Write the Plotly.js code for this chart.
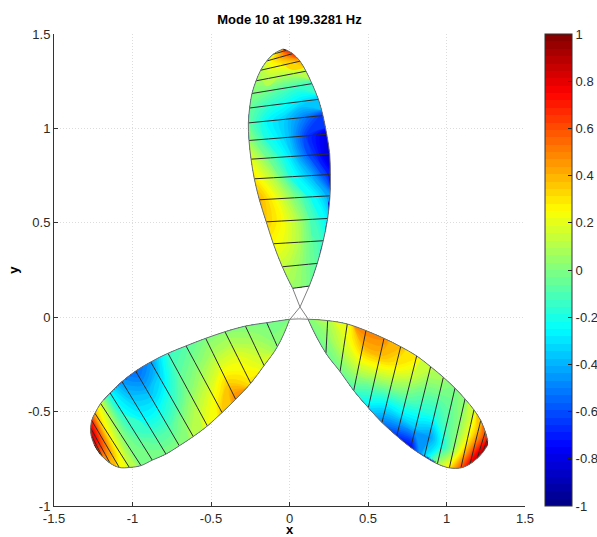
<!DOCTYPE html>
<html><head><meta charset="utf-8">
<script src="https://cdn.plot.ly/plotly-3.0.1.min.js"></script>
<style>html,body{margin:0;padding:0;background:#fff}#p{width:597px;height:537px}</style>
</head><body><div id="p"></div>
<script>
// Petal stations: [x at side A, y at side A, x at side B, y at side B]
var topStations = [
[.020,.153,.126,.165],[-.046,.267,.177,.285],[-.103,.389,.215,.405],[-.148,.505,.243,.523],
[-.192,.622,.258,.643],[-.224,.733,.260,.756],[-.245,.837,.256,.865],[-.258,.936,.237,.969],
[-.262,1.029,.213,1.068],[-.254,1.108,.184,1.154],[-.239,1.185,.143,1.237],[-.213,1.252,.105,1.303],
[-.184,1.308,.067,1.356],[-.145,1.357,.020,1.396],[-.103,1.393,-.018,1.414],[-.044,1.419,-.035,1.419]];
var leftStations = [
[-.001,-.011,-.001,-.015],[-.145,-.029,-.077,-.156],[-.281,-.047,-.162,-.256],[-.411,-.077,-.247,-.350],
[-.534,-.112,-.343,-.435],[-.659,-.152,-.430,-.505],[-.774,-.191,-.523,-.576],[-.884,-.237,-.613,-.632],
[-.980,-.285,-.702,-.681],[-1.067,-.341,-.787,-.725],[-1.143,-.401,-.874,-.757],[-1.203,-.457,-.946,-.786],
[-1.239,-.509,-1.020,-.796],[-1.260,-.547,-1.084,-.796],[-1.266,-.588,-1.143,-.773],[-1.264,-.623,-1.192,-.738],
[-1.243,-.676,-1.228,-.699]];
var rightStations = [
[.120,-.015,.120,-.011],[.232,-.191,.243,-.018],[.322,-.288,.368,-.036],[.409,-.389,.487,-.071],
[.502,-.479,.602,-.112],[.589,-.558,.708,-.156],[.683,-.629,.810,-.205],[.772,-.690,.899,-.262],
[.859,-.738,.980,-.318],[.942,-.777,1.054,-.376],[1.018,-.798,1.118,-.433],[1.092,-.798,1.175,-.491],
[1.150,-.777,1.218,-.547],[1.196,-.747,1.247,-.606],[1.230,-.717,1.260,-.646],[1.256,-.685,1.260,-.676]];
// Mode shape read across each station, from side A to side B
var topMode = [
[.05,.04,.03,.01,-.03],[.13,.1,.05,-.02,-.08],[.25,.2,.1,-.05,-.15],[.35,.25,.1,-.1,-.28],
[.4,.22,0,-.22,-.42],[.3,.1,-.2,-.4,-.7],[.2,-.05,-.3,-.6,-.85],[.05,-.2,-.35,-.65,-.8],
[-.05,-.25,-.35,-.5,-.65],[-.05,-.15,-.22,-.3,-.35],[0,-.02,-.08,-.12,-.15],[.05,.1,.1,.12,.1],
[.1,.2,.25,.32,.4],[.18,.3,.4,.5,.65],[.2,.3,.4,.55,.7],[.25,.35,.45,.6,.72]];
var leftMode = [
[0,0,0,0,0],[-.02,0,0,.02,.02],[0,.05,.1,.15,.18],[.02,.1,.2,.25,.3],
[0,.08,.2,.35,.48],[-.08,0,.1,.22,.35],[-.15,-.08,0,.12,.22],[-.45,-.3,-.15,0,.12],
[-.55,-.4,-.25,-.1,.02],[-.45,-.35,-.25,-.1,0],[-.25,-.22,-.15,-.05,0],[.18,.1,.03,0,0],
[.4,.3,.25,.2,.12],[.7,.6,.5,.4,.25],[.8,.75,.65,.5,.4],[.85,.8,.7,.6,.5],[.85,.8,.72,.65,.55]];
var rightMode = [
[0,0,0,0,0],[-.02,0,.03,.06,.1],[-.03,.05,.15,.2,.2],[-.12,.05,.22,.4,.5],
[-.3,-.1,.15,.38,.48],[-.5,-.25,.05,.28,.38],[-.65,-.3,-.05,.15,.3],[-.75,-.35,-.15,0,.15],
[-.3,-.45,-.2,-.05,.08],[.08,-.22,-.1,-.05,0],[.3,.05,.02,.03,.02],[.6,.4,.25,.2,.15],
[.78,.65,.5,.4,.35],[.85,.8,.7,.6,.55],[.9,.85,.8,.75,.7],[.92,.88,.85,.8,.78]];
// Unfilled crossing of the boundary curve near the origin
var crossX = [.020,.067,.120,null,.126,.067,-.001,null,-.001,.06,.120];
var crossY = [.153,.054,-.011,null,.165,.054,-.015,null,-.011,-.009,-.011];
var axisVals = [-1.5,-1,-0.5,0,0.5,1,1.5];
var axisText = ['-1.5','-1','-0.5','0','0.5','1','1.5'];
var yVals = [-1,-0.5,0,0.5,1,1.5];
var yText = ['-1','-0.5','0','0.5','1','1.5'];
var barVals = [-1,-0.8,-0.6,-0.4,-0.2,0,0.2,0.4,0.6,0.8,1];
var barText = ['-1','-0.8','-0.6','-0.4','-0.2','0','0.2','0.4','0.6','0.8','1'];
var jet = [[0,'rgb(0,0,128)'],[.125,'rgb(0,0,255)'],[.375,'rgb(0,255,255)'],[.625,'rgb(255,255,0)'],[.875,'rgb(255,0,0)'],[1,'rgb(128,0,0)']];

var FONT = '"Liberation Sans", Arial, sans-serif';
var INK = '#2a2a2a';
var traces = [];
function petal(id, st, mode, withBar){
  var acrossIdx = [0,1,2,3,4], xs = [], ys = [], zs = [];
  acrossIdx.forEach(function(j){
    var f = j/4;
    xs.push(st.map(function(s){return s[0]+(s[2]-s[0])*f;}));
    ys.push(st.map(function(s){return s[1]+(s[3]-s[1])*f;}));
    zs.push(mode.map(function(m){return m[j];}));
  });
  var a = st.map(function(_,i){return i;});
  traces.push({
    type:'contourcarpet', carpet:id, a:a, b:acrossIdx, z:zs,
    autocontour:false, contours:{start:-1,end:1,size:0.03125,coloring:'fill',showlines:false},
    line:{width:0}, colorscale:jet, zmin:-1, zmax:1, showscale:!!withBar,
    colorbar: withBar ? {x:1.0425,xanchor:'left',xpad:0,ypad:0,y:0.5,yanchor:'middle',len:1,lenmode:'fraction',
      thickness:27,thicknessmode:'pixels',outlinecolor:'#333',outlinewidth:1,borderwidth:0,
      tickmode:'array',tickvals:barVals,ticktext:barText,ticks:'inside',ticklen:4,tickcolor:'#222',tickwidth:1,
      tickfont:{family:FONT,size:13,color:INK}} : undefined
  });
  traces.push({
    type:'carpet', carpet:id, a:a, b:acrossIdx, x:xs, y:ys,
    aaxis:{tickmode:'linear',tick0:0,dtick:1,smoothing:1,showticklabels:'none',showline:false,
      gridcolor:'#2b2b2b',gridwidth:1,minorgridcount:0,startline:false,endline:false},
    baxis:{tickmode:'linear',tick0:0,dtick:1,smoothing:0,showticklabels:'none',showgrid:false,showline:false,
      minorgridcount:0,startline:true,endline:true,startlinecolor:'#707070',endlinecolor:'#707070',
      startlinewidth:1,endlinewidth:1}
  });
}
petal('top', topStations, topMode, true);
petal('left', leftStations, leftMode, false);
petal('right', rightStations, rightMode, false);
traces.push({type:'scatter',mode:'lines',x:crossX,y:crossY,line:{color:'#808080',width:1},hoverinfo:'skip',showlegend:false});

var axisCommon = {
  showgrid:true, gridcolor:'#dcdcdc', griddash:'1px,2px', gridwidth:1, zeroline:false,
  showline:true, linecolor:'#333', linewidth:1, ticks:'inside', ticklen:4, tickcolor:'#333', tickwidth:1,
  tickmode:'array', tickfont:{family:FONT,size:13,color:INK}
};
var layout = {
  width:597, height:537, paper_bgcolor:'#fff', plot_bgcolor:'#fff', showlegend:false,
  margin:{l:54,r:72,t:33.5,b:31,pad:0,autoexpand:false},
  title:{text:'<b>Mode 10 at 199.3281 Hz</b>',font:{family:FONT,size:13,color:'#000'},x:0.5,xref:'paper',xanchor:'center',y:0.9646,yref:'container',yanchor:'middle'},
  xaxis:Object.assign({},axisCommon,{range:[-1.5,1.5],tickvals:axisVals,ticktext:axisText,
    title:{text:'<b>x</b>',font:{family:FONT,size:13,color:'#000'},standoff:12}}),
  yaxis:Object.assign({},axisCommon,{range:[-1,1.5],tickvals:yVals,ticktext:yText,
    title:{text:'<b>y</b>',font:{family:FONT,size:13,color:'#000'},standoff:6}})
};
Plotly.newPlot('p',traces,layout,{displayModeBar:false,staticPlot:true});
</script></body></html>
